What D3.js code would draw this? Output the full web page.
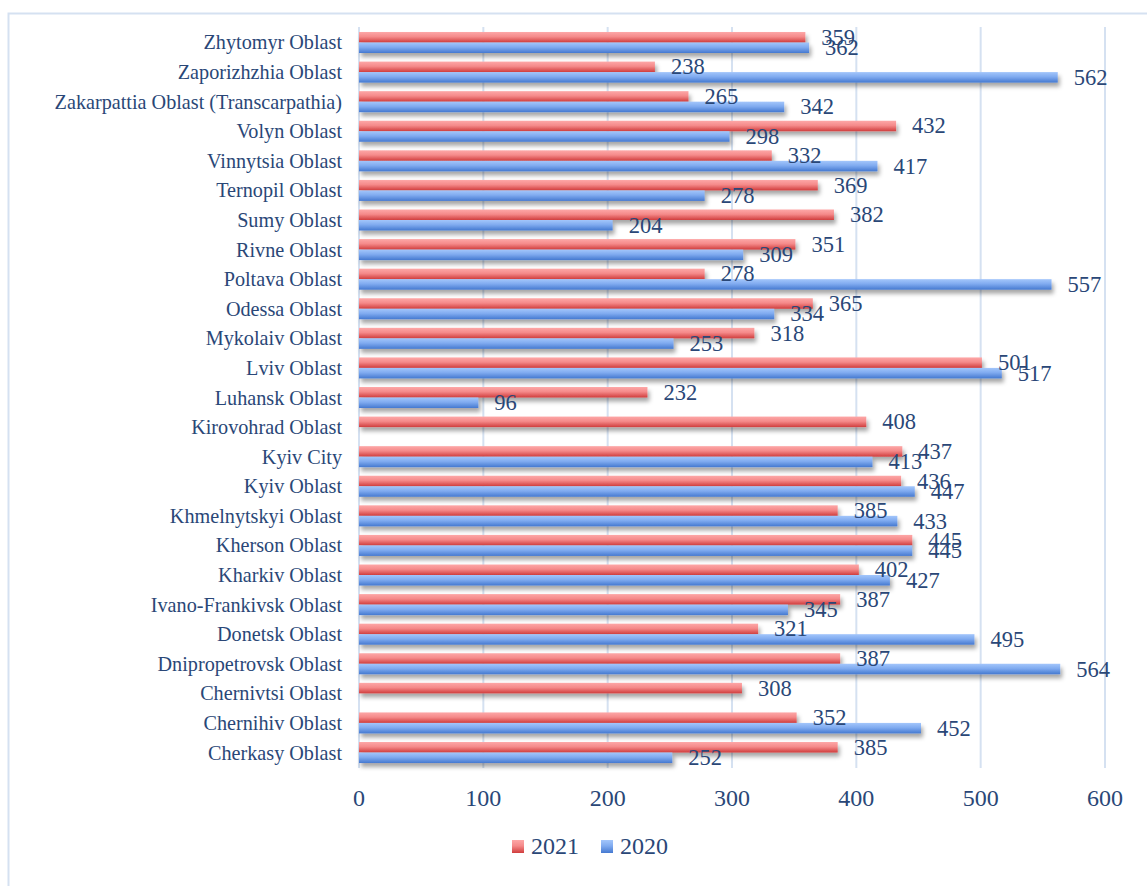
<!DOCTYPE html>
<html><head><meta charset="utf-8">
<script src="https://cdn.jsdelivr.net/npm/d3@7/dist/d3.min.js"></script>
<style>body{margin:0;background:#fff}</style>
</head><body>
<script>
const categories = ["Zhytomyr Oblast","Zaporizhzhia Oblast","Zakarpattia Oblast (Transcarpathia)","Volyn Oblast","Vinnytsia Oblast","Ternopil Oblast","Sumy Oblast","Rivne Oblast","Poltava Oblast","Odessa Oblast","Mykolaiv Oblast","Lviv Oblast","Luhansk Oblast","Kirovohrad Oblast","Kyiv City","Kyiv Oblast","Khmelnytskyi Oblast","Kherson Oblast","Kharkiv Oblast","Ivano-Frankivsk Oblast","Donetsk Oblast","Dnipropetrovsk Oblast","Chernivtsi Oblast","Chernihiv Oblast","Cherkasy Oblast"];
const values2021 = [359,238,265,432,332,369,382,351,278,365,318,501,232,408,437,436,385,445,402,387,321,387,308,352,385];
const values2020 = [362,562,342,298,417,278,204,309,557,334,253,517,96,null,413,447,433,445,427,345,495,564,null,452,252];
const seriesNames = ["2021","2020"];
const xTicks = [0,100,200,300,400,500,600];

const W = 1147, H = 886;
const svg = d3.select("body").append("svg").attr("width", W).attr("height", H);
const defs = svg.append("defs");
function grad(id, stops){
  const g = defs.append("linearGradient").attr("id", id).attr("x1",0).attr("y1",0).attr("x2",0).attr("y2",1);
  stops.forEach(s => g.append("stop").attr("offset", s[0]).attr("stop-color", s[1]));
}
grad("gRed", [[0,"#FDA7A7"],[0.45,"#F58A8A"],[1,"#D03D3D"]]);
grad("gBlue", [[0,"#A3C6FB"],[0.45,"#80ABF0"],[1,"#4579D0"]]);
const f = defs.append("filter").attr("id","sh").attr("x","-5%").attr("y","-50%").attr("width","115%").attr("height","250%");
f.append("feDropShadow").attr("dx",2).attr("dy",4).attr("stdDeviation",2).attr("flood-color","#000").attr("flood-opacity",0.35);

// outer border
svg.append("rect").attr("x",8.5).attr("y",13.5).attr("width",1200).attr("height",900)
  .attr("fill","none").attr("stroke","#D5E1F1").attr("stroke-width",2);

const x = d3.scaleLinear().domain([0,600]).range([359,1105]);
const y = d3.scaleBand().domain(categories).range([27.7,767.3]).paddingInner(0.29).paddingOuter(0.145);
const ys = d3.scaleBand().domain(seriesNames).range([0, y.bandwidth()]);
const textColor = "#2A4777";
const serif = "'Liberation Serif','Times New Roman',serif";

// gridlines
svg.append("g").selectAll("line").data(xTicks).join("line")
  .attr("x1", d => x(d)).attr("x2", d => x(d)).attr("y1", 27).attr("y2", 768)
  .attr("stroke", "#D5E1F1").attr("stroke-width", 2);

const rows = categories.map((c,i) => ({c, v: {"2021": values2021[i], "2020": values2020[i]}}));
const fills = {"2021":"url(#gRed)","2020":"url(#gBlue)"};

seriesNames.forEach(s => {
  svg.append("g").attr("filter","url(#sh)").selectAll("rect")
    .data(rows.filter(r => r.v[s] != null)).join("rect")
    .attr("x", x(0)).attr("y", r => y(r.c) + ys(s))
    .attr("width", r => x(r.v[s]) - x(0)).attr("height", ys.bandwidth())
    .attr("fill", fills[s]);
});

// value labels
seriesNames.forEach(s => {
  svg.append("g").selectAll("text")
    .data(rows.filter(r => r.v[s] != null)).join("text")
    .attr("x", r => x(r.v[s]) + 16)
    .attr("y", r => y(r.c) + ys(s) + ys.bandwidth()/2 + 7.5)
    .attr("font-family", serif).attr("font-size", 22.5).attr("fill", textColor)
    .text(r => r.v[s]);
});

// category labels
svg.append("g").selectAll("text").data(categories).join("text")
  .attr("x", 342).attr("y", c => y(c) + y.bandwidth()/2 + 7)
  .attr("text-anchor","end").attr("font-family", serif).attr("font-size", 20.2)
  .attr("fill", textColor).text(c => c);

// x tick labels
svg.append("g").selectAll("text").data(xTicks).join("text")
  .attr("x", d => x(d)).attr("y", 806).attr("text-anchor","middle")
  .attr("font-family", serif).attr("font-size", 24).attr("fill", textColor).text(d => d);

// legend
const lg = svg.append("g");
const legX = [512, 601];
seriesNames.forEach((s,i) => {
  lg.append("rect").attr("x", legX[i]).attr("y", 840).attr("width", 12).attr("height", 13).attr("fill", fills[s]);
  lg.append("text").attr("x", legX[i] + 19).attr("y", 854).attr("font-family", serif)
    .attr("font-size", 24).attr("fill", textColor).text(s);
});
</script>
</body></html>
